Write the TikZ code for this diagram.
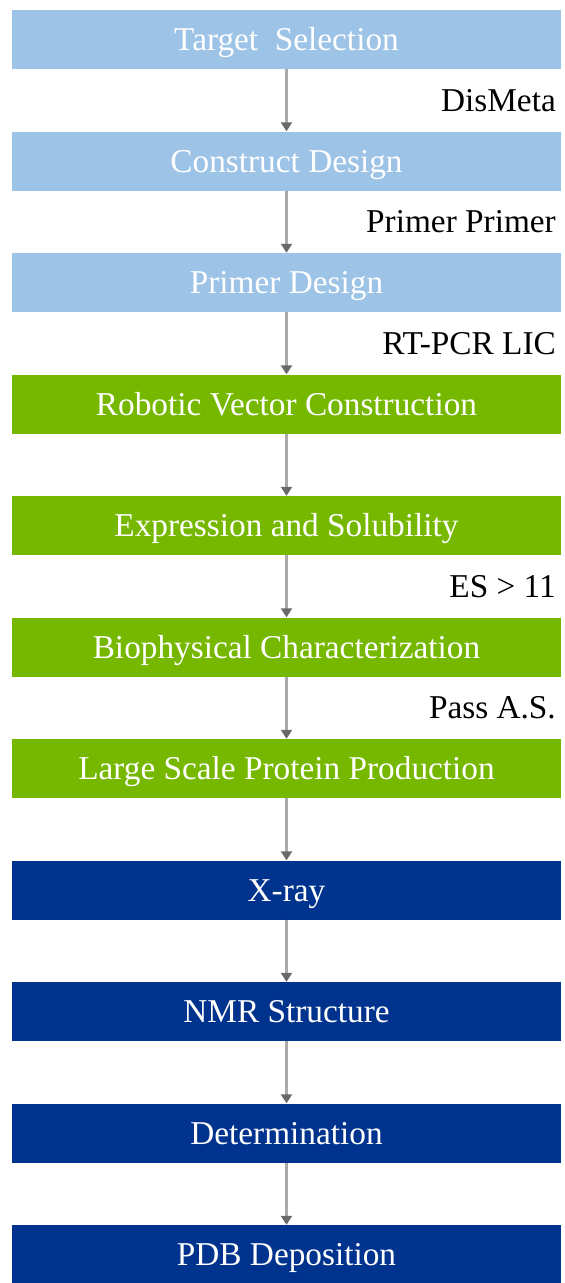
\documentclass[tikz,border=0pt]{standalone}
\usepackage{fontspec}
\setmainfont{Liberation Serif}
\usetikzlibrary{arrows.meta}
\definecolor{skyblue}{RGB}{157,195,231}
\definecolor{leafgreen}{RGB}{118,184,0}
\definecolor{navy}{RGB}{0,51,141}
\definecolor{linegray}{RGB}{170,170,170}
\definecolor{tipgray}{RGB}{105,105,105}
\tikzset{
  stage/.style = {minimum width = 549pt, minimum height = 59pt, inner sep = 0pt, text = white,
    font = \fontsize{33.3}{40}\selectfont, text height = 22pt, text depth = 0pt},
  design/.style = {stage, fill = skyblue},
  wetlab/.style = {stage, fill = leafgreen},
  solve/.style = {stage, fill = navy},
  flow/.style = {draw = linegray, line width = 2.5pt, -{Triangle[width = 11pt, length = 9pt, color = tipgray]}},
  note/.style = {anchor = east, inner sep = 0pt, font = \fontsize{33.3}{40}\selectfont, text height = 22pt, text depth = 0pt}
}
\begin{document}
\begin{tikzpicture}[x = 1pt, y = 1pt]
  \useasboundingbox (0,0) rectangle (565,-1283);
  % stages
  \node[design] (target) at (286.5,-39.5) {Target\ \ Selection};
  \node[design] (construct) at (286.5,-161) {Construct Design};
  \node[design] (primer) at (286.5,-282.5) {Primer Design};
  \node[wetlab] (vector) at (286.5,-404) {Robotic Vector Construction};
  \node[wetlab] (express) at (286.5,-525.5) {Expression and Solubility};
  \node[wetlab] (biophys) at (286.5,-647) {Biophysical Characterization};
  \node[wetlab] (largescale) at (286.5,-768.5) {Large Scale Protein Production};
  \node[solve] (xray) at (286.5,-890) {X-ray};
  \node[solve] (nmr) at (286.5,-1011.5) {NMR Structure};
  \node[solve] (determ) at (286.5,-1133) {Determination};
  \node[solve] (pdb) at (286.5,-1254.5) {PDB Deposition};
  % arrows
  \path[flow] (target) -- (construct);
  \path[flow] (construct) -- (primer);
  \path[flow] (primer) -- (vector);
  \path[flow] (vector) -- (express);
  \path[flow] (express) -- (biophys);
  \path[flow] (biophys) -- (largescale);
  \path[flow] (largescale) -- (xray);
  \path[flow] (xray) -- (nmr);
  \path[flow] (nmr) -- (determ);
  \path[flow] (determ) -- (pdb);
  % side notes
  \node[note] (dismeta) at (556,-100.25) {DisMeta};
  \node[note] (primers) at (556,-221.75) {Primer Primer};
  \node[note] (rtpcr) at (556,-343.25) {RT-PCR LIC};
  \node[note] (esscore) at (556,-586.25) {ES > 11};
  \node[note] (passas) at (556,-707.75) {Pass A.S.};
\end{tikzpicture}
\end{document}
